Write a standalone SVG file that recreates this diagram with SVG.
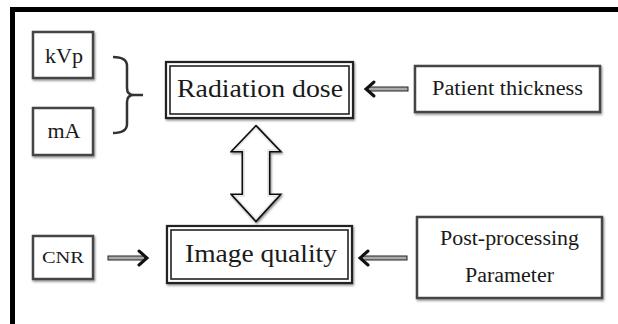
<svg xmlns="http://www.w3.org/2000/svg" width="618" height="324" viewBox="0 0 618 324">
<defs>
<filter id="sh" x="-10%" y="-10%" width="130%" height="140%">
<feDropShadow dx="1" dy="1.5" stdDeviation="1" flood-color="#000" flood-opacity="0.45"/>
</filter>
<path id="dbl" d="M256,128 L277,150 L268,150 L268,196 L277,196 L256,219 L235,196 L244,196 L244,150 L235,150 Z"/>
</defs>
<style>
.box{fill:#fff;stroke:#444;stroke-width:2.5;filter:url(#sh)}
.obox{fill:#fff;stroke:#222;stroke-width:2.2;filter:url(#sh)}
.ibox{fill:none;stroke:#222;stroke-width:1.6}
.t{font-family:"Liberation Serif","Times New Roman",serif;fill:#1a1a1a;text-anchor:middle}
.shaft{fill:#aaa;stroke:#222;stroke-width:1}
.head{fill:none;stroke:#111;stroke-width:3;stroke-linecap:round;stroke-linejoin:miter}
.brace{fill:none;stroke:#333;stroke-width:2.5}
</style>
<rect width="618" height="324" fill="#fff"/>
<path d="M12.5,324 V9.5 H618" fill="none" stroke="#000" stroke-width="5"/>

<g id="kvp"><rect class="box" x="33" y="32" width="60" height="46"/><text class="t" x="64" y="63" font-size="21" textLength="38" lengthAdjust="spacingAndGlyphs">kVp</text></g>
<g id="ma"><rect class="box" x="33" y="108" width="60" height="47"/><text class="t" x="64" y="138" font-size="21" textLength="33" lengthAdjust="spacingAndGlyphs">mA</text></g>
<g id="radiation-dose"><rect class="obox" x="166" y="62" width="187" height="56"/><rect class="ibox" x="170" y="66" width="179" height="48"/><text class="t" x="260" y="97" font-size="26" textLength="166" lengthAdjust="spacingAndGlyphs">Radiation dose</text></g>
<g id="patient-thickness"><rect class="box" x="415" y="66" width="185" height="46"/><text class="t" x="507.5" y="95" font-size="20" textLength="151" lengthAdjust="spacingAndGlyphs">Patient thickness</text></g>
<g id="cnr"><rect class="box" x="33" y="236" width="60" height="43"/><text class="t" x="63" y="263" font-size="17" textLength="42" lengthAdjust="spacingAndGlyphs">CNR</text></g>
<g id="image-quality"><rect class="obox" x="167" y="226" width="185" height="57"/><rect class="ibox" x="171" y="230" width="177" height="49"/><text class="t" x="261" y="262" font-size="26" textLength="152" lengthAdjust="spacingAndGlyphs">Image quality</text></g>
<g id="post-processing"><rect class="box" x="417" y="217" width="185" height="81"/><text class="t" x="509.5" y="245" font-size="20" textLength="139" lengthAdjust="spacingAndGlyphs">Post-processing</text><text class="t" x="509.5" y="282" font-size="20" textLength="89" lengthAdjust="spacingAndGlyphs">Parameter</text></g>

<g id="connectors">
<path class="brace" d="M113,57 Q127,57 127,66 V88 Q127,95 134,95 H143 M113,133 Q127,133 127,124 V102 Q127,95 134,95"/>
<rect class="shaft" x="368" y="87" width="40" height="4"/>
<path class="head" d="M374,82 L366,89 L374,96"/>
<rect class="shaft" x="108" y="256" width="37" height="4"/>
<path class="head" d="M139,251 L147,258 L139,265"/>
<rect class="shaft" x="362" y="256" width="45" height="4"/>
<path class="head" d="M368,251 L360,258 L368,265"/>
<g filter="url(#sh)">
<use href="#dbl" fill="#fff" stroke="#111" stroke-width="5" stroke-linejoin="miter"/>
<use href="#dbl" fill="#fff" stroke="#e8e8e8" stroke-width="1.8" stroke-linejoin="miter"/>
</g>
</g>
</svg>
